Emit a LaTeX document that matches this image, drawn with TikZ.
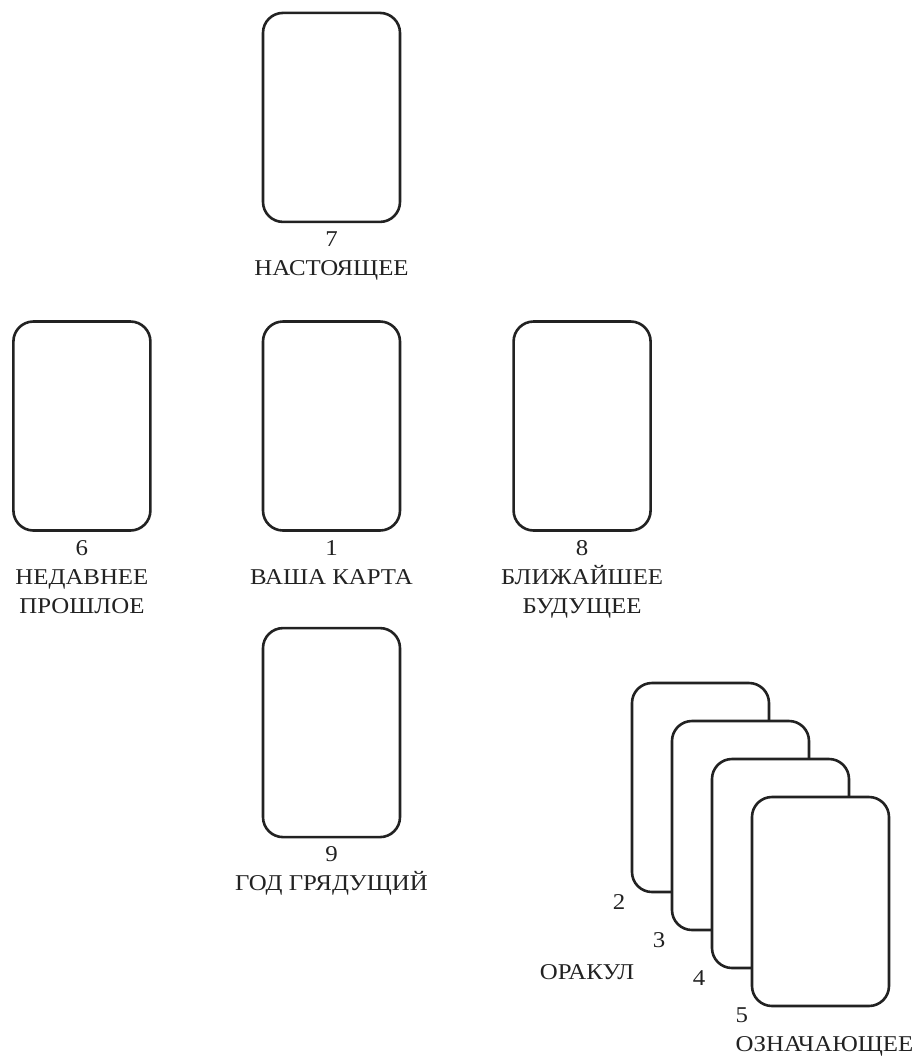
\documentclass[tikz,border=0pt]{standalone}
\usepackage{fontspec}
\setmainfont[FakeStretch=1.1]{Liberation Serif}
\usetikzlibrary{positioning}
\definecolor{Ink}{HTML}{222222}
\tikzset{
  card/.style={
    draw=Ink, line width=1.3pt, rounded corners=10pt, fill=white,
    minimum width=68.5pt, minimum height=104.5pt, inner sep=0pt
  },
  caption/.style={
    align=center, inner sep=1pt, text=Ink,
    font=\fontsize{11.3}{14.5}\selectfont
  },
  num/.style={
    inner sep=1.5pt, text=Ink, font=\fontsize{11.3}{14.5}\selectfont
  }
}

\begin{document}
\begin{tikzpicture}[x=0.5pt,y=-0.5pt]
    \useasboundingbox (0,0) rectangle (916,1057);
    % the cross
    \node[card] (c1) at (331.5,426) {};
    \node[card,above=48.5pt of c1] (c7) {};
    \node[card,left=55pt of c1] (c6) {};
    \node[card,right=55.5pt of c1] (c8) {};
    \node[card,below=47.5pt of c1] (c9) {};
    \node[caption,below=3pt of c7] (t7) {7\\НАСТОЯЩЕЕ};
    \node[caption,below=3pt of c6] (t6) {6\\НЕДАВНЕЕ\\ПРОШЛОЕ};
    \node[caption,below=3pt of c1] (t1) {1\\ВАША КАРТА};
    \node[caption,below=3pt of c8] (t8) {8\\БЛИЖАЙШЕЕ\\БУДУЩЕЕ};
    \node[caption,below=3pt of c9] (t9) {9\\ГОД ГРЯДУЩИЙ};
    % the oracle stack
    \node[card] (c2) at (700.5,787.5) {};
    \node[card] (c3) at ([shift={(40,38)}]c2) {};
    \node[card] (c4) at ([shift={(40,38)}]c3) {};
    \node[card] (c5) at ([shift={(40,38)}]c4) {};
    \node[num,anchor=north east] (n2) at ([shift={(-2,-2)}]c2.south west) {2};
    \node[num,anchor=north east] (n3) at ([shift={(-2,-2)}]c3.south west) {3};
    \node[num,anchor=north east] (n4) at ([shift={(-2,-2)}]c4.south west) {4};
    \node[caption,align=left,inner sep=0pt,below=0pt of c5,xshift=2pt] (t5) {5\\ОЗНАЧАЮЩЕЕ};
    \node[caption] (oracle) at (587,972) {ОРАКУЛ};
\end{tikzpicture}
\end{document}
